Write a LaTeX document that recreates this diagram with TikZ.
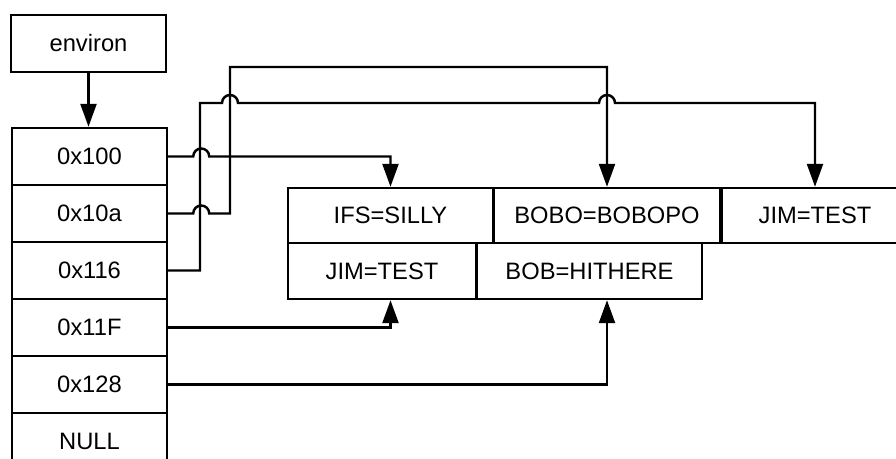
\documentclass[tikz,border=0pt]{standalone}
\usepackage{fontspec}
\setmainfont{Liberation Sans}
\usetikzlibrary{arrows.meta}

\tikzset{
	cell/.style={draw, line width=1.4pt, minimum width=3.1cm, minimum height=1.14cm,
		inner sep=0pt, font=\fontsize{13.5}{16}\selectfont},
	entry/.style={draw, line width=1.4pt, minimum height=1.1cm,
		inner sep=0pt, font=\fontsize{13.5}{16}\selectfont},
	link/.style={line width=1.4pt, -{Triangle[length=0.46cm,width=0.32cm]}},
}

\begin{document}
\begin{tikzpicture}[x=0.02cm, y=0.02cm]
	\useasboundingbox (0,0) rectangle (896,-459);
	\clip (0,0) rectangle (896,-459);
	
	% environ and the pointer list
	\node[cell] (environ) at (88.5,-43.5) {environ};
	\node[cell] (p100) at (89.5,-156.5) {0x100};
	\node[cell] (p10a) at (89.5,-213.5) {0x10a};
	\node[cell] (p116) at (89.5,-270.5) {0x116};
	\node[cell] (p11f) at (89.5,-327.5) {0x11F};
	\node[cell] (p128) at (89.5,-384.5) {0x128};
	\node[cell] (pnull) at (89.5,-441.5) {NULL};
	
	% the strings
	\node[entry, minimum width=4.1cm] (ifs) at (390.5,-215.5) {IFS=SILLY};
	\node[entry, minimum width=4.52cm] (bobo) at (607,-215.5) {BOBO=BOBOPO};
	\node[entry, minimum width=3.72cm] (jimA) at (815,-215.5) {JIM=TEST};
	\node[entry, minimum width=3.76cm, minimum height=1.12cm] (jimB) at (382,-271) {JIM=TEST};
	\node[entry, minimum width=4.5cm, minimum height=1.12cm] (bob) at (589.5,-271) {BOB=HITHERE};
	
	\draw[link] (environ.south) -- (environ.south |- p100.north);
	
	\draw[link] (p100.east) -- ++(25,0) arc[start angle=180,end angle=0,radius=8] -| (ifs.north);
	\draw[link] (p10a.east) -- ++(25,0) arc[start angle=180,end angle=0,radius=8]
		-| (230,-67) -| (bobo.north);
	\draw[link] (p116.east) -| (200,-103) -- ++(22,0) arc[start angle=180,end angle=0,radius=8]
		-- ++(361,0) arc[start angle=180,end angle=0,radius=8] -| (jimA.north);
	\draw[link] (p11f.east) -| (ifs.south |- jimB.south);
	\draw[link] (p128.east) -| (bobo.south |- bob.south);
\end{tikzpicture}
\end{document}
